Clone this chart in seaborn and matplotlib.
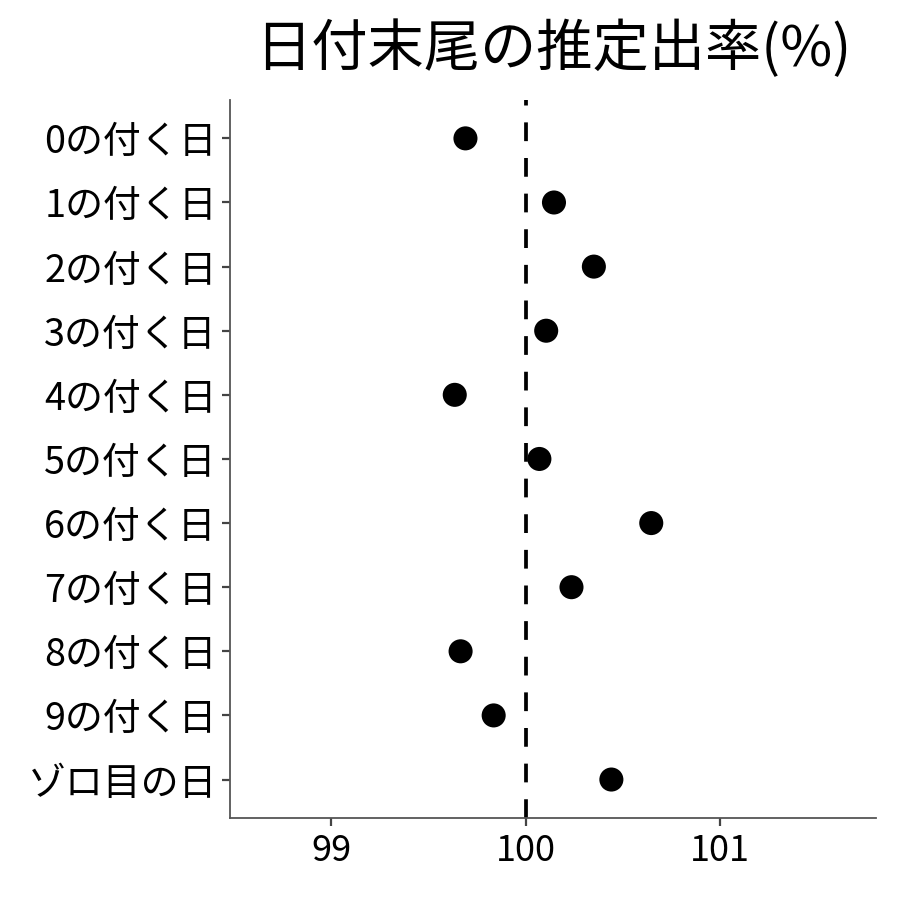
import matplotlib
matplotlib.use("Agg")
import matplotlib.pyplot as plt
import seaborn as sns
import pandas as pd

categories = ["0の付く日", "1の付く日", "2の付く日", "3の付く日", "4の付く日",
              "5の付く日", "6の付く日", "7の付く日", "8の付く日", "9の付く日", "ゾロ目の日"]
values = [99.69, 100.145, 100.35, 100.105, 99.635, 100.07, 100.645, 100.235, 99.665, 99.835, 100.44]
reference_value = 100
x_ticks = [99, 100, 101]
title = "日付末尾の推定出率(%)"

sns.set_theme(style="white")
plt.rcParams['font.family'] = ['Noto Sans CJK JP', 'DejaVu Sans']

df = pd.DataFrame({"category": categories, "value": values})

fig = plt.figure(figsize=(9, 9), dpi=100)
ax = fig.add_axes([0.2556, 0.0911, 0.7177, 0.7979])

ax.axvline(reference_value, color="black", linewidth=2.7, linestyle=(0, (5, 4.5)), zorder=1)
sns.scatterplot(data=df, x="value", y="category", ax=ax, color="black",
                s=300, edgecolor="none", linewidth=0, zorder=3, legend=False)

ax.set_xlim(98.48, 101.8)
ax.set_ylim(len(categories) - 0.4, -0.6)
ax.set_yticks(range(len(categories)))
ax.set_yticklabels(categories)
ax.set_xticks(x_ticks)
ax.set_xticklabels([str(t) for t in x_ticks])
ax.set_xlabel("")
ax.set_ylabel("")

for side in ["top", "right"]:
    ax.spines[side].set_visible(False)
for side in ["left", "bottom"]:
    ax.spines[side].set_color("#555555")
    ax.spines[side].set_linewidth(1.3)

ax.tick_params(axis="both", which="both", length=5.5, width=1.6, color="#444444",
               labelcolor="black", direction="out")
ax.tick_params(axis="y", pad=4, labelsize=27.3)
ax.tick_params(axis="x", pad=5, labelsize=26)
ax.tick_params(left=True, bottom=True)

ax.set_title(title, fontsize=40.5, pad=24, color="black")

fig.savefig("out.png", dpi=100, facecolor="white")
